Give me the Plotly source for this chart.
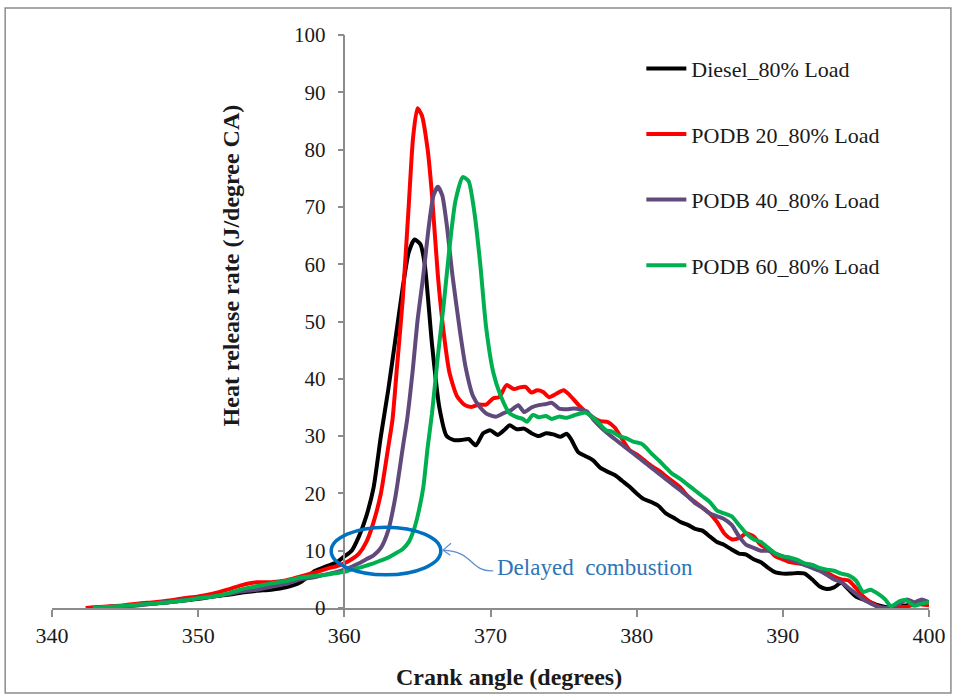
import plotly.graph_objects as go

# ---------------- data ----------------
series_names = ["Diesel_80% Load", "PODB 20_80% Load", "PODB 40_80% Load", "PODB 60_80% Load"]
series_colors = ["#000000", "#FF0000", "#604A7B", "#00B050"]

diesel_x = [342.5, 344, 345, 346, 347, 348, 349, 350, 351, 352, 353, 354, 355, 356, 357, 357.5, 358, 358.5,
            359, 359.5, 360, 360.5, 361, 361.5, 362, 362.5, 363, 363.5, 364, 364.4, 364.8, 365.2, 365.5, 366,
            366.5, 367, 367.5, 368, 368.5, 369, 369.5, 370, 370.5, 371, 371.3, 371.8, 372.3, 372.8, 373.3,
            373.8, 374.3, 374.8, 375.2, 375.5, 376, 376.5, 377, 377.5, 378, 378.5, 379, 379.5, 380, 380.5,
            381, 381.5, 382, 382.5, 383, 383.5, 384, 384.5, 385, 385.5, 386, 386.5, 387, 387.5, 388, 388.5,
            389, 389.5, 390, 390.5, 391, 391.5, 392, 392.5, 393, 393.5, 394, 394.5, 395, 395.5, 396, 396.5,
            397, 397.5, 398, 398.5, 399, 399.5, 400]
diesel_y = [0.0, 0.2, 0.4, 0.6, 0.8, 1.0, 1.3, 1.6, 2.0, 2.3, 2.7, 3.0, 3.2, 3.6, 4.5, 5.5, 6.5, 7.0,
            7.5, 8.0, 9.0, 10.0, 12.5, 16.0, 21.0, 30.0, 38.0, 47.0, 56.0, 62.0, 64.3, 63.5, 60.0, 46.0,
            35.0, 30.0, 29.3, 29.3, 29.5, 28.4, 30.5, 31.0, 30.2, 31.2, 31.9, 31.2, 31.3, 30.5, 30.0,
            30.5, 30.3, 29.9, 30.4, 29.5, 27.2, 26.5, 25.8, 24.5, 23.8, 23.2, 22.2, 21.2, 20.0, 19.0,
            18.5, 17.8, 16.5, 15.8, 15.0, 14.5, 13.8, 13.5, 12.5, 11.5, 11.0, 10.2, 9.5, 9.3, 8.5, 8.0,
            7.0, 6.2, 6.0, 6.0, 6.1, 6.0, 5.0, 3.8, 3.3, 3.6, 4.4, 3.2, 2.0, 1.5, 1.0, 0.5,
            0.2, 0.0, 0.3, 0.5, 0.5, 1.0, 0.8]

podb20_x = [342.3, 344, 345, 346, 347, 348, 349, 350, 351, 352, 353, 354, 355, 356, 357, 358, 359, 359.5,
            360, 360.5, 361, 361.5, 362, 362.5, 363, 363.3, 363.6, 364, 364.4, 364.7, 365.0, 365.3, 365.7,
            366, 366.4, 366.8, 367.2, 367.7, 368.2, 368.7, 369.2, 369.7, 370.2, 370.6, 371.1, 371.6, 372.0,
            372.4, 372.8, 373.2, 373.6, 374.0, 374.5, 375.0, 375.4, 376, 376.5, 377, 377.5, 378, 378.5,
            379, 379.5, 380, 380.5, 381, 381.5, 382, 382.5, 383, 383.5, 384, 384.5, 385, 385.5, 386,
            386.5, 387, 387.5, 388, 388.5, 389, 389.5, 390, 390.5, 391, 391.5, 392, 392.5, 393, 393.5,
            394, 394.5, 395, 395.5, 396, 396.5, 397, 397.5, 398, 398.5, 399, 399.5, 400]
podb20_y = [0.0, 0.3, 0.5, 0.8, 1.0, 1.3, 1.7, 2.0, 2.5, 3.2, 4.0, 4.5, 4.5, 4.8, 5.5, 6.2, 7.0, 7.3,
            7.8, 8.5, 9.5, 11.5, 15.0, 20.0, 28.0, 33.0, 42.0, 54.0, 70.0, 82.0, 87.2, 86.0, 80.0,
            72.0, 58.0, 48.0, 41.0, 37.0, 35.5, 35.1, 35.5, 35.5, 36.6, 36.8, 38.9, 38.2, 38.5,
            38.6, 37.6, 38.0, 37.7, 36.8, 37.4, 38.0, 37.2, 35.5, 34.3, 33.3, 32.6, 32.5, 31.5,
            29.5, 27.6, 26.8, 25.8, 24.8, 24.0, 23.0, 22.0, 21.0, 19.5, 18.5, 17.5, 16.5, 15.0, 13.0,
            12.0, 12.2, 13.0, 12.5, 11.0, 10.3, 9.0, 8.5, 8.0, 7.8, 7.6, 7.5, 6.8, 6.2, 5.5,
            5.0, 4.8, 3.5, 2.0, 1.0, 0.3, 0.0, 0.0, 0.2, 0.2, 0.8, 0.6, 0.5]

podb40_x = [343, 345, 346, 347, 348, 349, 350, 351, 352, 353, 354, 355, 356, 357, 358, 359, 359.5, 360,
            360.5, 361, 361.5, 362, 362.5, 363, 363.5, 364, 364.3, 364.7, 365, 365.4, 365.8, 366.1, 366.4,
            366.7, 367.0, 367.4, 367.9, 368.3, 368.8, 369.3, 369.8, 370.4, 370.9, 371.4, 371.9, 372.3,
            372.8, 373.3, 373.8, 374.2, 374.7, 375.2, 375.7, 376.2, 376.6, 377.0, 377.6, 378, 378.5, 379,
            379.5, 380, 380.5, 381, 381.5, 382, 382.5, 383, 383.5, 384, 384.5, 385, 385.5, 386, 386.5,
            387, 387.5, 388, 388.5, 389, 389.5, 390, 390.5, 391, 391.5, 392, 392.5, 393, 393.5, 394,
            394.5, 395, 395.5, 396, 396.5, 397, 397.5, 398, 398.5, 399, 399.5, 400]
podb40_y = [0.0, 0.3, 0.5, 0.8, 1.1, 1.4, 1.7, 2.0, 2.4, 2.9, 3.2, 3.7, 4.2, 5.0, 5.4, 6.0, 6.3, 6.7,
            7.2, 7.8, 8.5, 9.2, 10.5, 13.5, 19.5, 28.0, 33.0, 42.0, 50.0, 58.0, 67.0, 72.0, 73.5,
            72.0, 67.0, 58.0, 48.5, 42.0, 37.0, 35.0, 33.8, 33.4, 34.0, 34.5, 35.4, 34.2,
            35.0, 35.4, 35.6, 35.8, 34.8, 34.7, 34.8, 34.6, 34.3, 33.0, 31.4, 30.5, 29.5, 28.5,
            27.5, 26.5, 25.5, 24.5, 23.5, 22.5, 21.5, 20.5, 19.5, 18.3, 17.5, 16.5, 16.0, 15.5, 14.5,
            12.5, 11.0, 10.5, 10.0, 10.0, 9.5, 9.0, 8.5, 8.0, 7.5, 7.0, 6.5, 5.8, 5.0, 4.5,
            3.5, 2.5, 1.5, 0.8, 0.2, 0.0, 0.3, 0.8, 1.5, 1.0, 1.5, 1.0]

podb60_x = [342.8, 344, 345, 346, 347, 348, 349, 350, 351, 352, 353, 354, 355, 356, 357, 358, 359, 359.5,
            360, 360.5, 361, 361.5, 362, 362.5, 363, 363.5, 364, 364.4, 364.8, 365.1, 365.4, 365.7, 366.0,
            366.4, 366.8, 367.2, 367.6, 368.1, 368.5, 368.9, 369.3, 369.7, 370.2, 370.7, 371.3, 371.8,
            372.2, 372.5, 372.9, 373.3, 373.8, 374.2, 374.7, 375.2, 375.7, 376.2, 376.5, 376.9, 377.4,
            377.9, 378.3, 378.8, 379.3, 379.8, 380.3, 380.6, 381, 381.5, 382, 382.4, 383, 383.5, 384,
            384.5, 385, 385.5, 386, 386.5, 387, 387.5, 388, 388.5, 389, 389.5, 390, 390.5, 391, 391.5,
            392, 392.5, 393, 393.5, 394, 394.5, 395, 395.5, 396, 396.5, 397, 397.4, 398, 398.4, 399,
            399.5, 400]
podb60_y = [0.0, 0.2, 0.4, 0.6, 0.8, 1.0, 1.3, 1.7, 2.0, 2.5, 3.3, 3.8, 4.3, 4.7, 5.3, 5.6, 5.9, 6.1,
            6.3, 6.7, 7.0, 7.4, 7.8, 8.3, 8.8, 9.5, 10.3, 11.5, 14.0, 17.0, 21.0, 28.0, 34.0,
            44.0, 53.0, 63.0, 71.0, 75.2, 74.5, 69.0, 60.0, 49.0, 41.0, 37.0, 34.0, 33.3,
            33.0, 32.5, 33.7, 33.3, 33.5, 33.0, 33.4, 33.2, 33.6, 34.0, 34.1, 33.5, 32.3,
            31.0, 30.8, 30.0, 29.6, 29.0, 28.7, 28.1, 27.0, 25.8, 24.5, 23.5, 22.5, 21.5, 20.5,
            19.5, 18.5, 17.0, 16.5, 16.0, 14.5, 13.0, 12.0, 11.5, 10.5, 9.5, 9.0, 8.8, 8.4, 7.8,
            7.5, 7.0, 6.7, 6.5, 6.0, 5.7, 4.8, 2.8, 3.2, 2.5, 1.5, 0.3, 1.2, 1.4, 0.4,
            0.8, 1.0]

x_ticks = [340, 350, 360, 370, 380, 390, 400]
y_ticks = [0, 10, 20, 30, 40, 50, 60, 70, 80, 90, 100]

x_title = "Crank angle (degrees)"
y_title = "Heat release rate (J/degree CA)"
note_text = "Delayed\u00a0 combustion"

# ---------------- figure ----------------
FONT = "Liberation Serif"
AX = "#8C8C8C"
TXT = "#1a1a1a"

fig = go.Figure()
all_x = [diesel_x, podb20_x, podb40_x, podb60_x]
all_y = [diesel_y, podb20_y, podb40_y, podb60_y]
for i, (name, col, xs, ys) in enumerate(zip(series_names, series_colors, all_x, all_y)):
    fig.add_trace(go.Scatter(
        x=xs, y=ys, name=name, mode="lines",
        line=dict(color=col, width=4, shape="spline", smoothing=0.6),
        legendgroup=f"g{i}",
    ))

fig.update_layout(
    width=958, height=695,
    margin=dict(l=52, r=26, t=35, b=87),
    paper_bgcolor="white", plot_bgcolor="white",
    font=dict(family=FONT, color=TXT),
    showlegend=True,
    legend=dict(
        x=0.672, y=0.978, xanchor="left", yanchor="top",
        font=dict(family=FONT, size=22, color=TXT),
        tracegroupgap=34, traceorder="grouped",
        bgcolor="rgba(0,0,0,0)", itemwidth=40,
    ),
    xaxis=dict(
        range=[340, 400], tickvals=x_ticks, ticktext=[str(v) for v in x_ticks],
        showgrid=False, zeroline=False, showline=True, linecolor=AX, linewidth=1.5,
        ticks="outside", ticklen=7, tickcolor=AX, tickwidth=1.5,
        tickfont=dict(family=FONT, size=22, color=TXT),
    ),
    yaxis=dict(
        range=[0, 100], tickvals=y_ticks, ticktext=[str(v) for v in y_ticks],
        anchor="free", position=(360 - 340) / (400 - 340),
        showgrid=False, zeroline=False, showline=True, linecolor=AX, linewidth=1.5,
        ticks="outside", ticklen=6, tickcolor=AX, tickwidth=1.5,
        tickfont=dict(family=FONT, size=21, color=TXT),
        ticklabelstandoff=8,
    ),
)

# axis titles
fig.add_annotation(text=f"<b>{x_title}</b>", xref="paper", yref="paper",
                   x=(511 - 52) / 880, y=(608 - 677) / 573, showarrow=False,
                   xanchor="center", yanchor="middle",
                   font=dict(family=FONT, size=24, color=TXT))
fig.add_annotation(text=f"<b>{y_title}</b>", xref="paper", yref="paper",
                   x=(232 - 52) / 880, y=(608 - 265) / 573, showarrow=False, textangle=-90,
                   xanchor="center", yanchor="middle",
                   font=dict(family=FONT, size=24, color=TXT))

# ellipse marking delayed combustion
fig.add_shape(type="circle", xref="x", yref="y", x0=359.1, x1=366.6, y0=5.8, y1=14.1,
              line=dict(color="#0070C0", width=3.5))
# curved pointer from note to ellipse
fig.add_shape(type="path", xref="x", yref="y",
              path="M 370.2,6.5 C 368.6,6.2 368.9,9.9 366.75,10.1",
              line=dict(color="#5B8FD0", width=1.2))
fig.add_shape(type="path", xref="x", yref="y",
              path="M 367.3,11.3 L 366.75,10.1 L 367.25,9.2",
              line=dict(color="#5B8FD0", width=1.2))
fig.add_annotation(text=note_text, xref="x", yref="y", x=370.3, y=7.0, showarrow=False,
                   xanchor="left", yanchor="middle",
                   font=dict(family=FONT, size=23, color="#2E75B6"))

# outer chart border
fig.add_shape(type="rect", xref="paper", yref="paper",
              x0=(5 - 52) / 880, x1=(954 - 52) / 880, y0=(608 - 693) / 573, y1=(608 - 8) / 573,
              line=dict(color="#8C8C8C", width=1.5), layer="below")

fig.write_html("out.html")
